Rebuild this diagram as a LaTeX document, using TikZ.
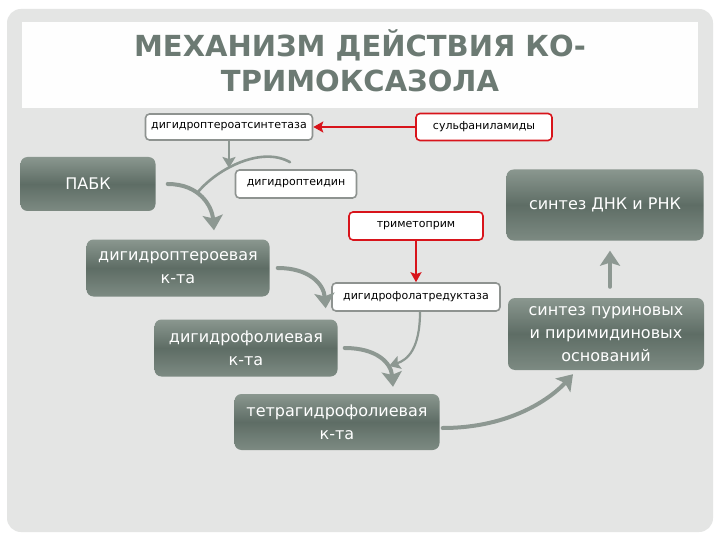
\documentclass[tikz,border=0pt]{standalone}
\usepackage{fontspec}
\setmainfont{DejaVu Sans}
\usepackage{xcolor}
\usepackage{tikz}
\usetikzlibrary{arrows.meta}

\definecolor{bggray}{HTML}{E4E5E4}
\definecolor{titlegray}{HTML}{6C7A73}
\definecolor{boxtop}{HTML}{8A978F}
\definecolor{boxmid}{HTML}{5E6D65}
\definecolor{flowgray}{HTML}{8D9892}
\definecolor{rimgray}{HTML}{8E9390}
\definecolor{alertred}{HTML}{D8141B}

\tikzset{
  darkbox/.style={rectangle, rounded corners=7pt, top color=boxtop, bottom color=boxtop!70!boxmid,
    middle color=boxmid, text=white, align=center, inner sep=0pt,
    font=\fontsize{16}{23}\selectfont},
  enzbox/.style={rectangle, rounded corners=4pt, fill=white, draw=rimgray, line width=1.6pt,
    inner sep=0pt, font=\fontsize{11}{13}\selectfont},
  drugbox/.style={enzbox, draw=alertred},
  flowline/.style={draw=flowgray, line width=4pt, line cap=round},
  flow/.style={flowline, -{Stealth[length=15pt,width=20pt,inset=3pt]}},
  feed/.style={draw=flowgray, line width=2.2pt, -{Stealth[length=11pt,width=13pt,inset=2pt]}},
  block/.style={draw=alertred, line width=2pt, -{Stealth[length=10pt,width=11pt,inset=2pt]}}
}

\begin{document}
\begin{tikzpicture}[x=1pt,y=-1pt]
\useasboundingbox (0,0) rectangle (720,540);
\fill[white] (0,0) rectangle (720,540);
\fill[bggray, rounded corners=14pt] (7,9) rectangle (713,532);
\fill[white!97!bggray] (22,22) rectangle (698,108);

    \node[text=titlegray, align=center, font=\fontsize{29}{35}\selectfont\bfseries] (title) at (360,61)
      {МЕХАНИЗМ ДЕЙСТВИЯ КО-\\ТРИМОКСАЗОЛА};

    \node[enzbox, minimum width=167, minimum height=26] (dps) at (229,127) {дигидроптероатсинтетаза};
    \node[drugbox, minimum width=136, minimum height=27] (sulf) at (484,127) {сульфаниламиды};
    \node[enzbox, minimum width=121, minimum height=28] (dpt) at (296,184) {дигидроптеидин};
    \node[drugbox, minimum width=134, minimum height=28] (tmp) at (416,226) {триметоприм};
    \node[enzbox, minimum width=168, minimum height=28] (dfr) at (416,297) {дигидрофолатредуктаза};

    \node[darkbox, minimum width=135, minimum height=54] (paba) at (88,184) {ПАБК};
    \node[darkbox, minimum width=183, minimum height=57] (dhp) at (178,268) {дигидроптероевая\\к-та};
    \node[darkbox, minimum width=183, minimum height=57] (dhf) at (246,348) {дигидрофолиевая\\к-та};
    \node[darkbox, minimum width=205, minimum height=56] (thf) at (337,422) {тетрагидрофолиевая\\к-та};
    \node[darkbox, minimum width=197, minimum height=71] (dna) at (605,205) {синтез ДНК и РНК};
    \node[darkbox, minimum width=196, minimum height=72] (pur) at (606,334) {синтез пуриновых\\и пиримидиновых\\оснований};

    \coordinate (m1) at (229,168);
    \coordinate (j1) at (198,192);
    \coordinate (j2) at (389,366);

    % draw the arrows
    \draw[block] (sulf) -- (dps);
    \draw[block] (tmp) -- (dfr);
    \draw[feed] (dps) -- (m1);
    \draw[flow] ([xshift=12pt]paba.east) .. controls +(32,0) and +(-2,-24) .. ([xshift=36pt,yshift=9pt]dhp.north);
    \draw[flowline, line width=2.6pt] ([xshift=-6pt,yshift=7pt]dpt.north) .. controls (262,146) and (218,168) .. (j1);
    \draw[flow] ([xshift=8pt]dhp.east) .. controls +(32,0) and +(-2,-24) .. ([xshift=-12pt,yshift=11pt]dhf.north east);
    \draw[feed] ([xshift=4pt]dfr.south) .. controls +(0,38) and +(18,-6) .. (j2);
    \draw[flow] ([xshift=7pt]dhf.east) .. controls +(32,0) and +(-2,-24) .. ([xshift=56pt,yshift=7pt]thf.north);
    \draw[flow] ([xshift=3pt,yshift=-6pt]thf.east) .. controls +(70,0) and +(-20,22) .. ([xshift=-33pt,yshift=-4pt]pur.south);
    \draw[flow] ([xshift=4pt,yshift=11pt]pur.north) -- ([xshift=5pt,yshift=-10pt]dna.south);

\end{tikzpicture}
\end{document}
